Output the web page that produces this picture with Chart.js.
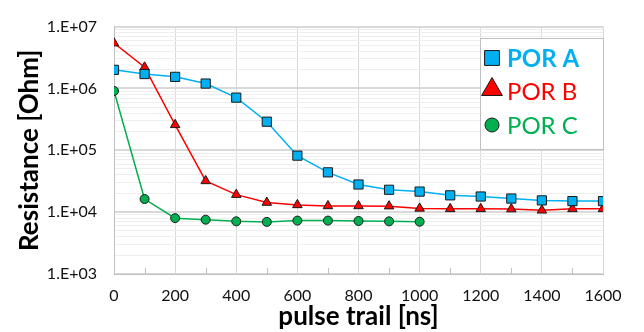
<!DOCTYPE html>
<html>
<head>
<meta charset="utf-8">
<script src="https://cdn.jsdelivr.net/npm/chart.js@4/dist/chart.umd.min.js"></script>
<style>
  html, body { margin: 0; padding: 0; background: #fff; }
  #wrap { width: 644px; height: 332px; }
</style>
</head>
<body>
<div id="wrap"><canvas id="lineCanvas" width="644" height="332"></canvas></div>
<script>
// === Données ===
const pulseNs = [0, 100, 200, 300, 400, 500, 600, 700, 800, 900, 1000, 1100, 1200, 1300, 1400, 1500, 1600];
const porA = [2.0e6, 1.71e6, 1.54e6, 1.2e6, 7.1e5, 2.9e5, 8.2e4, 4.4e4, 2.8e4, 2.3e4, 2.15e4, 1.87e4, 1.79e4, 1.66e4, 1.55e4, 1.51e4, 1.51e4];
const porB = [5.4e6, 2.2e6, 2.58e5, 3.2e4, 1.92e4, 1.43e4, 1.31e4, 1.26e4, 1.26e4, 1.25e4, 1.15e4, 1.13e4, 1.13e4, 1.12e4, 1.07e4, 1.13e4, 1.13e4];
const porC = [9.1e5, 1.63e4, 8.0e3, 7.55e3, 7.1e3, 6.96e3, 7.3e3, 7.3e3, 7.2e3, 7.1e3, 7.0e3];
const seriesNames = ['POR A', 'POR B', 'POR C'];
const yTickLabels = ['1.E+03', '1.E+04', '1.E+05', '1.E+06', '1.E+07'];
const yDecades = [1e3, 1e4, 1e5, 1e6, 1e7];

const FONT = 'Lato, "Open Sans", sans-serif';

function toPoints(values) {
    return values.map((v, i) => ({ x: pulseNs[i], y: v }));
}

// === Légende dessinée dans la zone du graphique ===
const insideLegend = {
    id: 'insideLegend',
    afterDraw(chart) {
        const ctx = chart.ctx;
        const box = { x: 480.5, y: 38.5, w: 123, h: 111 };
        ctx.save();
        ctx.fillStyle = '#fff';
        ctx.fillRect(box.x, box.y, box.w, box.h);
        ctx.strokeStyle = '#BFBFBF';
        ctx.lineWidth = 1;
        ctx.strokeRect(box.x, box.y, box.w, box.h);
        chart.data.datasets.forEach((ds, i) => {
            const cy = 58 + i * 33.5;
            ctx.fillStyle = ds.pointBackgroundColor;
            ctx.strokeStyle = '#1a1a1a';
            ctx.lineWidth = 1;
            Chart.helpers.drawPoint(ctx, {
                pointStyle: ds.pointStyle,
                rotation: 0,
                radius: ds.legendRadius,
                borderWidth: 1
            }, 492, cy + (ds.pointStyle === 'triangle' ? -2 : 0));
            ctx.font = (ds.legendBold ? 'bold ' : '') + '24px ' + FONT;
            ctx.fillStyle = ds.borderColor;
            ctx.textBaseline = 'middle';
            ctx.textAlign = 'left';
            ctx.fillText(ds.label, 507, cy + 1);
        });
        ctx.restore();
    }
};

// === Petites graduations internes sur l'axe X ===
const minorTicks = {
    id: 'minorTicks',
    afterDatasetsDraw(chart) {
        const xs = chart.scales.x;
        const bottom = chart.chartArea.bottom;
        const ctx = chart.ctx;
        ctx.save();
        ctx.strokeStyle = '#BFBFBF';
        ctx.lineWidth = 1;
        for (let v = xs.min + 100; v < xs.max; v += 200) {
            const px = Math.round(xs.getPixelForValue(v)) + 0.5;
            ctx.beginPath();
            ctx.moveTo(px, bottom - 6);
            ctx.lineTo(px, bottom);
            ctx.stroke();
        }
        ctx.restore();
    }
};

function makeSet(label, values, color, style, radius, legendRadius, bold) {
    return {
        label: label,
        data: toPoints(values),
        borderColor: color,
        backgroundColor: color,
        pointBackgroundColor: color,
        pointBorderColor: '#1a1a1a',
        pointBorderWidth: 1,
        pointStyle: style,
        pointRadius: radius,
        pointHoverRadius: radius,
        borderWidth: 1.5,
        tension: 0,
        legendRadius: legendRadius,
        legendBold: bold
    };
}

const ctx = document.getElementById('lineCanvas').getContext('2d');
const lineChart = new Chart(ctx, {
    type: 'line',
    data: {
        datasets: [
            makeSet(seriesNames[0], porA, '#00B0F0', 'rect', 6.5, 10.5, true),
            makeSet(seriesNames[1], porB, '#FF0000', 'triangle', 5.5, 12, false),
            makeSet(seriesNames[2], porC, '#00B050', 'circle', 4.5, 7, false)
        ]
    },
    options: {
        responsive: false,
        animation: false,
        layout: { padding: { top: 13, right: 41, left: 0, bottom: 0 } },
        plugins: {
            legend: { display: false },
            tooltip: { enabled: false }
        },
        scales: {
            x: {
                type: 'linear',
                min: 0,
                max: 1600,
                ticks: {
                    stepSize: 200,
                    padding: 12,
                    color: '#111',
                    font: { family: FONT, size: 16 },
                    callback(value) { return String(value); }
                },
                grid: { color: '#D9D9D9', drawTicks: false },
                border: { color: '#BFBFBF' },
                title: {
                    display: true,
                    text: 'pulse trail [ns]',
                    color: '#000',
                    font: { family: FONT, size: 26, weight: 'bold' },
                    padding: { top: 0, bottom: 0 }
                },
                afterFit(scale) { scale.height = 58; }
            },
            y: {
                type: 'logarithmic',
                min: yDecades[0],
                max: yDecades[yDecades.length - 1],
                afterBuildTicks(scale) {
                    const t = [];
                    yDecades.forEach((d, i) => {
                        if (i === yDecades.length - 1) { t.push({ value: d }); return; }
                        for (let k = 1; k <= 9; k++) t.push({ value: k * d });
                    });
                    scale.ticks = t;
                },
                ticks: {
                    autoSkip: false,
                    padding: 17,
                    color: '#111',
                    font: { family: FONT, size: 16 },
                    callback(value) {
                        const i = yDecades.indexOf(value);
                        return i >= 0 ? yTickLabels[i] : '';
                    }
                },
                grid: {
                    drawTicks: false,
                    color(c) { return yDecades.includes(c.tick.value) ? '#D9D9D9' : '#EEEEEE'; },
                    lineWidth(c) { return yDecades.includes(c.tick.value) ? 2 : 1; }
                },
                border: { color: '#BFBFBF' },
                title: {
                    display: true,
                    text: 'Resistance [Ohm]',
                    color: '#000',
                    font: { family: FONT, size: 26, weight: 'bold' },
                    padding: { top: 14, bottom: 0 }
                },
                afterFit(scale) { scale.width = 114; }
            }
        }
    },
    plugins: [minorTicks, insideLegend]
});
</script>
</body>
</html>
